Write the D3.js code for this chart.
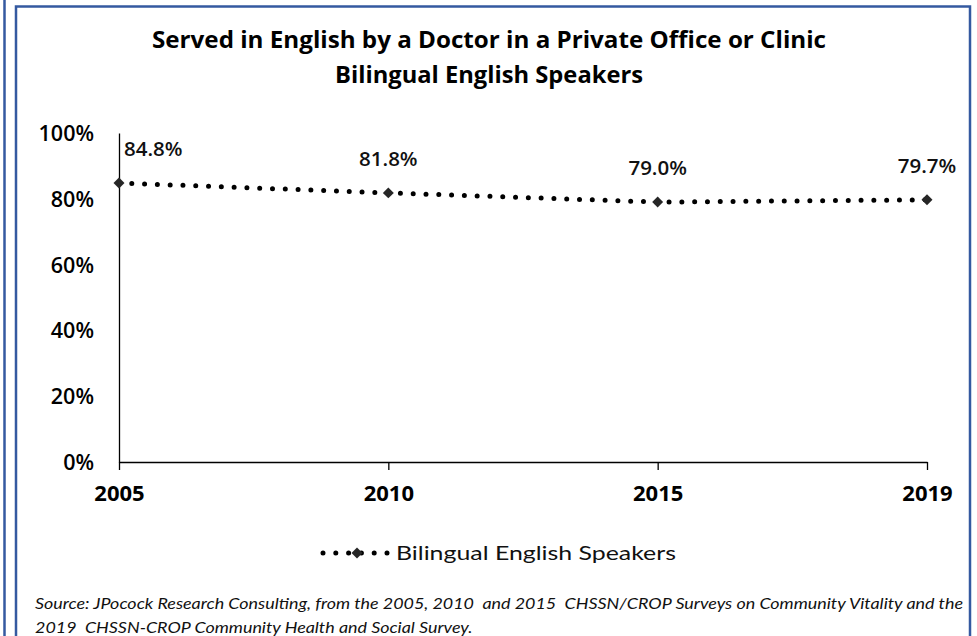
<!DOCTYPE html>
<html><head><meta charset="utf-8">
<script src="https://cdn.jsdelivr.net/npm/d3@7"></script>
<style>body{margin:0;background:#fff}svg{display:block}</style>
</head><body>
<script>
const years = ["2005","2010","2015","2019"];
const values = [84.8, 81.8, 79.0, 79.7];
const yTicks = [0,20,40,60,80,100];
const titleLines = ["Served in English by a Doctor in a Private Office or Clinic","Bilingual English Speakers"];
const seriesName = "Bilingual English Speakers";
const sourceLines = ["Source: JPocock Research Consulting, from the 2005, 2010  and 2015  CHSSN/CROP Surveys on Community Vitality and the","2019  CHSSN-CROP Community Health and Social Survey."];

const W=977,H=636;
const svg=d3.select("body").append("svg").attr("width",W).attr("height",H);
const blue="#3459a0";
svg.append("line").attr("x1",4.5).attr("x2",4.5).attr("y1",0).attr("y2",H).attr("stroke",blue).attr("stroke-width",2.5);
svg.append("path").attr("d",`M16,${H+5}V6.5H970V${H+5}`).attr("fill","none").attr("stroke",blue).attr("stroke-width",2.5);

const narrow="Lato, 'Open Sans', sans-serif";
const sans="'Open Sans', sans-serif";
const x=d3.scalePoint().domain(years).range([119,927]);
const y=d3.scaleLinear().domain([0,100]).range([462,133]);

function fit(sel,w){sel.each(function(){const n=this.getComputedTextLength();if(n>0)d3.select(this).attr("textLength",w).attr("lengthAdjust","spacingAndGlyphs");});}

const t=svg.append("g").attr("font-family",sans).attr("font-weight","bold").attr("font-size",23).attr("fill","#000").attr("text-anchor","middle");
const titleW=[674,308];
titleLines.forEach((s,i)=>{const e=t.append("text").attr("x",489).attr("y",48+i*35).text(s);fit(e,titleW[i]);});

// y axis
const ya=svg.append("g").attr("transform","translate(119,0)").call(d3.axisLeft(y).tickValues(yTicks).tickSize(0).tickPadding(25).tickFormat(d=>d+"%"));
ya.select(".domain").attr("stroke","#000").attr("stroke-width",1.3);
ya.selectAll("text").attr("font-family",sans).attr("font-weight",600).attr("font-size",21.5).attr("fill","#000").attr("dy","0.35em");

// x axis
const xa=svg.append("g").attr("transform","translate(0,462)").call(d3.axisBottom(x).tickSize(8).tickSizeOuter(0).tickPadding(15));
xa.select(".domain").attr("stroke","#000").attr("stroke-width",1.6);
xa.selectAll("line").attr("stroke","#000").attr("stroke-width",1.3);
xa.selectAll("text").attr("font-family",sans).attr("font-weight","bold").attr("font-size",22).attr("fill","#000").attr("dy","0.71em");

const pts=years.map((d,i)=>[x(d),y(values[i])]);
svg.append("path").attr("d",d3.line()(pts)).attr("fill","none").attr("stroke","#000").attr("stroke-width",5).attr("stroke-linecap","round").attr("stroke-dasharray","0,12.8");
const diamond=d3.symbol().type({draw(c,s){const r=Math.sqrt(s/2);c.moveTo(0,-r);c.lineTo(r,0);c.lineTo(0,r);c.lineTo(-r,0);c.closePath();}}).size(60);
svg.selectAll(".m").data(pts).enter().append("path").attr("d",diamond).attr("transform",d=>`translate(${d[0]},${d[1]})`).attr("fill","#262626");

const labelDx=[5,0,0,0];
const labelAnchor=["start","middle","middle","middle"];
svg.selectAll(".lbl").data(values).enter().append("text")
 .attr("x",(d,i)=>x(years[i])+labelDx[i]).attr("y",(d,i)=>y(d)-34).attr("dy","0.35em")
 .attr("text-anchor",(d,i)=>labelAnchor[i])
 .attr("font-family",sans).attr("font-weight",600).attr("font-size",20.5).attr("fill","#111")
 .text(d=>d.toFixed(1)+"%");

// legend
const lg=svg.append("g");
lg.append("line").attr("x1",323).attr("x2",390).attr("y1",553).attr("y2",553).attr("stroke","#000").attr("stroke-width",5).attr("stroke-linecap","round").attr("stroke-dasharray","0,12.8");
lg.append("path").attr("d",diamond).attr("transform","translate(357,553)").attr("fill","#262626");
const lt=lg.append("text").attr("x",396).attr("y",553).attr("dy","0.35em").attr("font-family",narrow).attr("font-size",20).attr("fill","#111").text(seriesName);
fit(lt,280);

const src=svg.append("g").attr("font-family",narrow).attr("font-style","italic").attr("font-size",15).attr("fill","#111");
const s0=src.append("text").attr("x",35).attr("y",609).style("white-space","pre").text(sourceLines[0]);
const natural=s0.node().getComputedTextLength();
const k=928/natural;
s0.attr("textLength",928).attr("lengthAdjust","spacingAndGlyphs");
const s1=src.append("text").attr("x",35).attr("y",633).style("white-space","pre").text(sourceLines[1]);
s1.attr("textLength",s1.node().getComputedTextLength()*k).attr("lengthAdjust","spacingAndGlyphs");
</script>
</body></html>
